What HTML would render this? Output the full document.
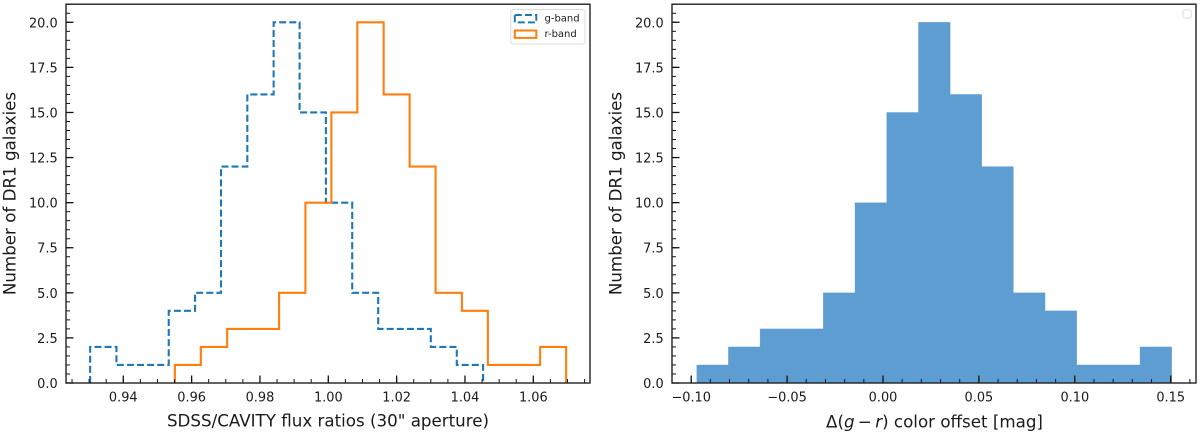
<!DOCTYPE html>
<html lang="en">
<head>
<meta charset="utf-8">
<title>SDSS/CAVITY flux ratios and color offset histograms</title>
<style>
html,body{margin:0;padding:0;background:#fff;}
#figure{display:block;width:1200px;height:434px;filter:blur(0.35px);}
text{font-family:"DejaVu Sans","Liberation Sans",sans-serif;fill:#1a1a1a;}
</style>
</head>
<body>
<svg id="figure" xmlns="http://www.w3.org/2000/svg" width="1200" height="434" viewBox="0 0 1200 434"></svg>
<script>
const gBandEdges = [0.9303,0.9380,0.9456,0.9533,0.9610,0.9686,0.9763,0.9840,0.9916,0.9993,1.0070,1.0146,1.0223,1.0300,1.0376,1.0453];
const gBandCounts = [2,1,1,4,5,12,16,20,15,10,5,3,3,2,1];
const rBandEdges = [0.9551,0.9627,0.9704,0.9780,0.9856,0.9933,1.0009,1.0085,1.0162,1.0238,1.0314,1.0391,1.0467,1.0543,1.0620,1.0696];
const rBandCounts = [1,2,3,3,5,10,15,20,16,12,5,4,1,1,2];
const colorEdges = [-0.0971,-0.0806,-0.0641,-0.0476,-0.0311,-0.0146,0.0019,0.0185,0.0350,0.0515,0.0680,0.0845,0.1010,0.1175,0.1340,0.1505];
const colorCounts = [1,2,3,3,5,10,15,20,16,12,5,4,1,1,2];
const yTickValues = [0,2.5,5,7.5,10,12.5,15,17.5,20];
const yTickLabels = ["0.0","2.5","5.0","7.5","10.0","12.5","15.0","17.5","20.0"];
const leftXTickValues = [0.94,0.96,0.98,1.00,1.02,1.04,1.06];
const leftXTickLabels = ["0.94","0.96","0.98","1.00","1.02","1.04","1.06"];
const rightXTickValues = [-0.10,-0.05,0,0.05,0.10,0.15];
const rightXTickLabels = ["\u22120.10","\u22120.05","0.00","0.05","0.10","0.15"];

const SVGNS = "http://www.w3.org/2000/svg";
const root = document.getElementById("figure");

function make(tag, parent, attrs) {
  const el = document.createElementNS(SVGNS, tag);
  for (const k in attrs) el.setAttribute(k, attrs[k]);
  parent.appendChild(el);
  return el;
}

const yTop = 22.3, yBottom = 383;
function yScale(v) { return yBottom - v * (yBottom - yTop) / 20; }
function xLeft(v) { return 328.3 + (v - 1) * 3417; }
function xRight(v) { return 883 + v * 1918; }

function stepPath(edges, counts, xs) {
  let d = "M" + xs(edges[0]).toFixed(2) + " " + yBottom;
  counts.forEach(function (c, i) {
    d += "L" + xs(edges[i]).toFixed(2) + " " + yScale(c).toFixed(2);
    d += "L" + xs(edges[i + 1]).toFixed(2) + " " + yScale(c).toFixed(2);
  });
  d += "L" + xs(edges[edges.length - 1]).toFixed(2) + " " + yBottom;
  return d;
}

function drawAxes(group, box, xs, xTicks, xLabels, xMinorStep, namePrefix) {
  const xMin = box.xMinValue, xMax = box.xMaxValue;
  // minor x ticks
  const first = Math.ceil(xMin / xMinorStep);
  const last = Math.floor(xMax / xMinorStep);
  for (let i = first; i <= last; i++) {
    const px = xs(i * xMinorStep);
    const t = make("line", group, {x1: px, x2: px, y1: box.bottom, y2: box.bottom - 4, stroke: "#111", "stroke-width": 1});
    
    
  }
  // major x ticks
  xTicks.forEach(function (v, i) {
    const px = xs(v);
    const t = make("line", group, {x1: px, x2: px, y1: box.bottom, y2: box.bottom - 7.5, stroke: "#111", "stroke-width": 1.3});
    
    
    const l = make("text", group, {x: px, y: 401.5, "text-anchor": "middle", "font-size": 12.9});
    l.textContent = xLabels[i];
    
    
  });
  // minor y ticks
  for (let i = 0; i <= 42; i++) {
    const py = yScale(i * 0.5);
    const t = make("line", group, {x1: box.left, x2: box.left + 4, y1: py, y2: py, stroke: "#111", "stroke-width": 1});
    
    
  }
  // major y ticks
  yTickValues.forEach(function (v, i) {
    const py = yScale(v);
    const t = make("line", group, {x1: box.left, x2: box.left + 7.5, y1: py, y2: py, stroke: "#111", "stroke-width": 1.3});
    
    
    const l = make("text", group, {x: box.left - 8.3, y: py + 5, "text-anchor": "end", "font-size": 12.9});
    l.textContent = yTickLabels[i];
    
    
  });
  // frame
  const frame = make("rect", group, {x: box.left, y: box.top, width: box.right - box.left, height: box.bottom - box.top, fill: "none", stroke: "#222", "stroke-width": 1.4});
  
  
}

function yAxisTitle(group, x, name) {
  const t = make("text", group, {x: x, y: 193.5, "text-anchor": "middle", "font-size": 16.7, transform: "rotate(-90 " + x + " 193.5)"});
  t.textContent = "Number of DR1 galaxies";
  
  
}

/* ---------- left panel ---------- */
const leftBox = {left: 66, right: 590, top: 4.2, bottom: 383, xMinValue: 0.9235, xMaxValue: 1.0765};
const leftPanel = make("g", root, {});



const gLine = make("path", leftPanel, {d: stepPath(gBandEdges, gBandCounts, xLeft), fill: "none", stroke: "#1f77b4", "stroke-width": 2.1, "stroke-dasharray": "7 3.1", "stroke-linejoin": "miter"});



const rLine = make("path", leftPanel, {d: stepPath(rBandEdges, rBandCounts, xLeft), fill: "none", stroke: "#ff7f0e", "stroke-width": 2.1, "stroke-linejoin": "miter"});



drawAxes(leftPanel, leftBox, xLeft, leftXTickValues, leftXTickLabels, 0.005, "flux");
yAxisTitle(leftPanel, 15.5, "flux-y-axis-title");

const leftXTitle = make("text", leftPanel, {x: 328, y: 426.5, "text-anchor": "middle", "font-size": 16.7});
leftXTitle.textContent = 'SDSS/CAVITY flux ratios (30" aperture)';



/* legend */
const legend = make("g", leftPanel, {});



const legendBox = make("rect", legend, {x: 510.8, y: 9.5, width: 74.2, height: 34.5, rx: 2.5, fill: "#fff", stroke: "#dcdcdc", "stroke-width": 1});



const gPatch = make("rect", legend, {x: 514.8, y: 15, width: 21.5, height: 7.4, fill: "none", stroke: "#1f77b4", "stroke-width": 2, "stroke-dasharray": "7 3.1"});



const gText = make("text", legend, {x: 544.5, y: 21.5, "font-size": 10});
gText.textContent = "g-band";



const rPatch = make("rect", legend, {x: 514.8, y: 30.5, width: 21.5, height: 7.4, fill: "none", stroke: "#ff7f0e", "stroke-width": 2});



const rText = make("text", legend, {x: 544.5, y: 37, "font-size": 10});
rText.textContent = "r-band";



/* ---------- right panel ---------- */
const rightBox = {left: 672, right: 1196, top: 4.2, bottom: 383, xMinValue: -0.1095, xMaxValue: 0.1629};
const rightPanel = make("g", root, {});



colorCounts.forEach(function (c, i) {
  const x0 = xRight(colorEdges[i]);
  const x1 = xRight(colorEdges[i + 1]);
  const bar = make("rect", rightPanel, {x: x0, y: yScale(c), width: x1 - x0, height: yBottom - yScale(c), fill: "#5e9dd1", stroke: "#5e9dd1", "stroke-width": 0.3});
  
  
});

drawAxes(rightPanel, rightBox, xRight, rightXTickValues, rightXTickLabels, 0.01, "color");
yAxisTitle(rightPanel, 621.5, "color-y-axis-title");

const rightXTitle = make("text", rightPanel, {x: 934.5, y: 427.5, "text-anchor": "middle", "font-size": 16.7});


const seg1 = make("tspan", rightXTitle, {});
seg1.textContent = "\u0394(";
const seg2 = make("tspan", rightXTitle, {"font-style": "italic"});
seg2.textContent = "g";
const seg3 = make("tspan", rightXTitle, {});
seg3.textContent = "\u2009\u2212\u2009";
const seg4 = make("tspan", rightXTitle, {"font-style": "italic"});
seg4.textContent = "r";
const seg5 = make("tspan", rightXTitle, {});
seg5.textContent = ") color offset [mag]";

const emptyLegend = make("rect", rightPanel, {x: 1183, y: 9.8, width: 8.4, height: 8.4, rx: 2, fill: "#fff", stroke: "#dedede", "stroke-width": 1});


</script>
</body>
</html>
